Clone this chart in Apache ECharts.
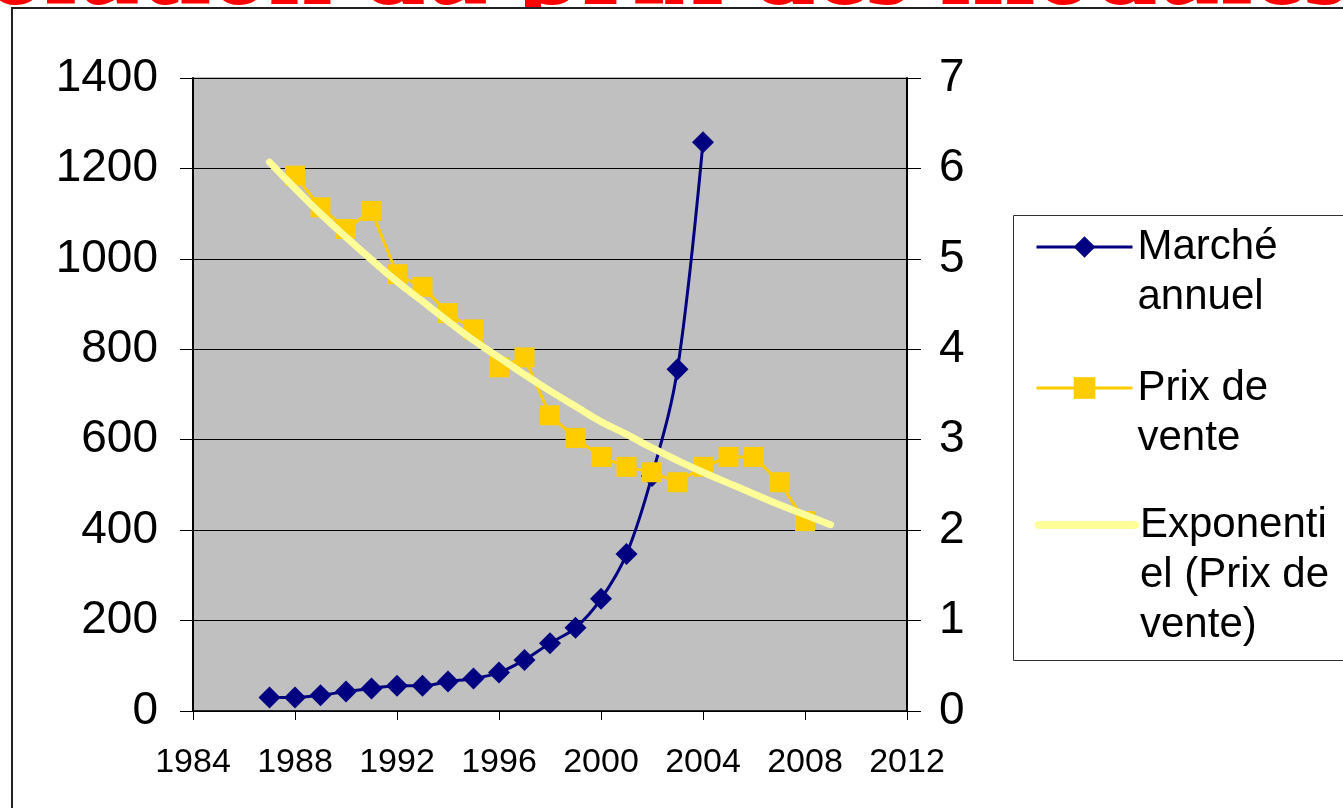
<!DOCTYPE html>
<html>
<head>
<meta charset="utf-8">
<script src="https://cdn.jsdelivr.net/npm/echarts@6/dist/echarts.min.js"></script>
<style>
  html, body { margin: 0; padding: 0; background: #fff; }
  #chart { width: 1343px; height: 808px; }
</style>
</head>
<body>
<div id="chart"></div>
<script>
// Annual PV market (MW) and module sale price (€/W)
const marketYears = [1987, 1988, 1989, 1990, 1991, 1992, 1993, 1994, 1995, 1996, 1997, 1998, 1999, 2000, 2001, 2002, 2003, 2004];
const marketValues = [30, 30, 35, 43, 50, 56, 56, 65, 72, 85, 113, 150, 184, 248, 347, 520, 756, 1258];

const priceYears = [1988, 1989, 1990, 1991, 1992, 1993, 1994, 1995, 1996, 1997, 1998, 1999, 2000, 2001, 2002, 2003, 2004, 2005, 2006, 2007, 2008];
const priceValues = [5.92, 5.57, 5.33, 5.53, 4.83, 4.69, 4.40, 4.22, 3.80, 3.91, 3.27, 3.02, 2.81, 2.70, 2.64, 2.53, 2.70, 2.81, 2.81, 2.53, 2.10];

// Exponential trend of the sale price
const trendYears = [1987, 1988, 1989, 1990, 1991, 1992, 1993, 1994, 1995, 1996, 1997, 1998, 1999, 2000, 2001, 2002, 2003, 2004, 2005, 2006, 2007, 2008, 2009];
const trendValues = [6.07, 5.78, 5.50, 5.24, 4.99, 4.75, 4.53, 4.31, 4.10, 3.91, 3.72, 3.54, 3.37, 3.20, 3.06, 2.91, 2.77, 2.64, 2.52, 2.40, 2.28, 2.17, 2.06];

const seriesNames = ['Marché annuel', 'Prix de vente', 'Exponentiel (Prix de vente)'];
const legendLines = [['Marché', 'annuel'], ['Prix de', 'vente'], ['Exponenti', 'el (Prix de', 'vente)']];
const titleText = 'Évolution du prix des modules';

const pairs = (xs, ys) => xs.map((x, i) => [x, ys[i]]);

const FONT = '"Liberation Sans", Arial, sans-serif';
const LEGEND_LINE_H = 50;

// Each legend entry is its own legend so its icon sits beside the first text line:
// leading empty lines push the first line onto the icon's centre.
function legendFor(idx, iconCenterY, lineStyle, itemStyle) {
  const lines = legendLines[idx];
  const text = '\n'.repeat(lines.length - 1) + lines.join('\n');
  const boxH = (2 * lines.length - 1) * LEGEND_LINE_H;
  const leg = {
    show: true,
    data: [seriesNames[idx]],
    left: 1030,
    top: iconCenterY - boxH / 2 - 5,
    orient: 'vertical',
    itemWidth: 96,
    itemHeight: 27,
    selectedMode: false,
    formatter: () => text,
    textStyle: {
      fontFamily: FONT,
      fontSize: 42,
      color: '#000',
      lineHeight: LEGEND_LINE_H
    },
    lineStyle: lineStyle
  };
  if (itemStyle) leg.itemStyle = itemStyle;
  return leg;
}

const chart = echarts.init(document.getElementById('chart'), null, { renderer: 'canvas' });

chart.setOption({
  animation: false,
  backgroundColor: '#fff',
  graphic: [
    {
      type: 'text',
      z: -200,
      x: -147,
      y: 32,
      style: {
        text: titleText,
        font: 'bold 115px "Liberation Serif", "Times New Roman", serif',
        fill: '#FF0000',
        verticalAlign: 'bottom',
        textShadowColor: '#BDBDBD',
        textShadowOffsetX: 4,
        textShadowOffsetY: 3,
        textShadowBlur: 0
      }
    },
    {
      type: 'rect',
      z: -100,
      shape: { x: 12, y: 8, width: 1400, height: 900 },
      style: { fill: '#fff', stroke: '#222', lineWidth: 2 }
    },
    {
      type: 'rect',
      z: -50,
      shape: { x: 1013.5, y: 215.5, width: 400, height: 445 },
      style: { fill: '#fff', stroke: '#333', lineWidth: 1 }
    }
  ],
  legend: [
    legendFor(0, 247, { width: 3, color: '#000080' }),
    legendFor(1, 388, { width: 3, color: '#FFCC00' }),
    legendFor(2, 525, { width: 8, color: '#FFFF99', cap: 'round' }, { opacity: 0 })
  ],
  grid: {
    left: 193,
    right: 436,
    top: 78,
    bottom: 97,
    show: true,
    backgroundColor: '#C0C0C0',
    borderColor: '#777',
    borderWidth: 1
  },
  xAxis: {
    type: 'value',
    min: 1984,
    max: 2012,
    interval: 4,
    axisLine: { show: true, onZero: false, lineStyle: { color: '#000', width: 1.5 } },
    axisTick: { show: true, length: 9, lineStyle: { color: '#000' } },
    axisLabel: { fontFamily: FONT, fontSize: 34, color: '#000', margin: 35, formatter: v => String(v) },
    splitLine: { show: false }
  },
  yAxis: [
    {
      type: 'value',
      min: 0,
      max: 1400,
      interval: 200,
      position: 'left',
      axisLine: { show: true, lineStyle: { color: '#000', width: 2 } },
      axisTick: { show: true, length: 13, lineStyle: { color: '#000' } },
      axisLabel: { fontFamily: FONT, fontSize: 46, color: '#000', margin: 35, formatter: v => String(v) },
      splitLine: { show: true, lineStyle: { color: '#000', width: 1 } }
    },
    {
      type: 'value',
      min: 0,
      max: 7,
      interval: 1,
      position: 'right',
      axisLine: { show: true, lineStyle: { color: '#000', width: 2 } },
      axisTick: { show: true, length: 14, lineStyle: { color: '#000' } },
      axisLabel: { fontFamily: FONT, fontSize: 46, color: '#000', margin: 32, formatter: v => String(v) },
      splitLine: { show: false }
    }
  ],
  series: [
    {
      name: seriesNames[0],
      type: 'line',
      yAxisIndex: 0,
      data: pairs(marketYears, marketValues),
      smooth: 0.35,
      symbol: 'diamond',
      symbolSize: 22,
      lineStyle: { color: '#000080', width: 3 },
      itemStyle: { color: '#000080' },
      z: 3
    },
    {
      name: seriesNames[1],
      type: 'line',
      yAxisIndex: 1,
      data: pairs(priceYears, priceValues),
      symbol: 'rect',
      symbolSize: 20,
      lineStyle: { color: '#FFCC00', width: 3 },
      itemStyle: { color: '#FFCC00' },
      z: 4
    },
    {
      name: seriesNames[2],
      type: 'line',
      yAxisIndex: 1,
      data: pairs(trendYears, trendValues),
      smooth: true,
      symbol: 'none',
      showSymbol: false,
      lineStyle: { color: '#FFFF99', width: 7, cap: 'round' },
      itemStyle: { color: '#FFFF99' },
      z: 5
    }
  ]
});
</script>
</body>
</html>
